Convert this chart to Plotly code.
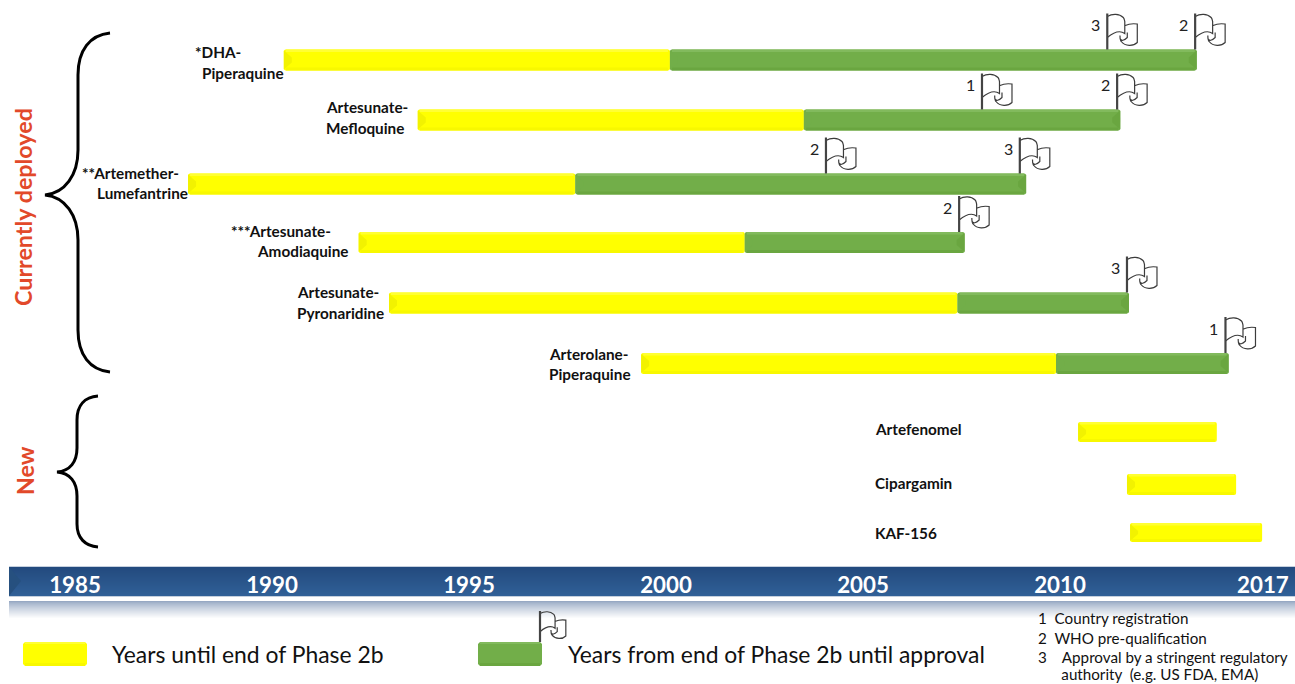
import re
import plotly.graph_objects as go

# ---------- data (years) ----------
drugs = ["*DHA-Piperaquine", "Artesunate-Mefloquine", "**Artemether-Lumefantrine",
         "***Artesunate-Amodiaquine", "Artesunate-Pyronaridine", "Arterolane-Piperaquine",
         "Artefenomel", "Cipargamin", "KAF-156"]
start_year = [1990.3, 1993.7, 1987.87, 1992.2, 1992.97, 1999.37, 2010.46, 2011.7, 2011.78]
phase2b_end = [2000.1, 2003.5, 1997.7, 2002.0, 2007.4, 2009.9, 2013.98, 2014.47, 2015.13]
approval_year = [2013.47, 2011.53, 2009.14, 2007.58, 2011.75, 2014.28, None, None, None]

flag_drug = [0, 0, 1, 1, 2, 2, 3, 4, 5]
flag_year = [2011.2, 2013.43, 2008.02, 2011.45, 2004.06, 2008.98, 2007.44, 2011.7, 2014.2]
flag_code = ["3", "2", "1", "2", "2", "3", "2", "3", "1"]

tick_vals = [1985, 1990, 1995, 2000, 2005, 2010, 2015.15]
tick_text = ["1985", "1990", "1995", "2000", "2005", "2010", "2017"]

legend_labels = ["Years until end of Phase 2b", "Years from end of Phase 2b until approval"]
footnotes = ["1  Country registration", "2  WHO pre-qualification",
             "3    Approval by a stringent regulatory", "      authority  (e.g. US FDA, EMA)"]

# ---------- layout constants ----------
W, H = 1295, 684
PX_PER_YEAR = 39.4
X_MIN = 1985 - 75 / PX_PER_YEAR
X_MAX = X_MIN + W / PX_PER_YEAR
row_y = [60, 120, 184, 242.5, 303, 363.5, 432, 484.5, 532.5]
bar_h = [21, 21, 21, 21, 21, 21, 20, 21, 19]
YELLOW, GREEN = "#FFFF00", "#72AE49"
FONT = "Lato"

label_lines = [
    [("*DHA-", 193, 52), ("Piperaquine", 200, 73)],
    [("Artesunate-", 324, 107), ("Mefloquine", 324, 128)],
    [("**Artemether-", 80, 173), ("Lumefantrine", 95, 193)],
    [("***Artesunate-", 229, 231), ("Amodiaquine", 255, 251)],
    [("Artesunate-", 295, 292), ("Pyronaridine", 295, 313)],
    [("Arterolane-", 547, 354), ("Piperaquine", 547, 374)],
    [("Artefenomel", 873, 429)],
    [("Cipargamin", 873, 483)],
    [("KAF-156", 873, 533)],
]


def px(v):
    return v / W


fig = go.Figure()
shapes, ann = [], []

# phase bars
fig.add_trace(go.Bar(y=row_y, base=start_year,
                     x=[e - s for s, e in zip(start_year, phase2b_end)],
                     width=bar_h, orientation="h", name=legend_labels[0],
                     marker=dict(color=YELLOW, cornerradius=2, line_width=0), showlegend=False))
g_y = [r for r, a in zip(row_y, approval_year) if a is not None]
g_w = [h for h, a in zip(bar_h, approval_year) if a is not None]
g_b = [e for e, a in zip(phase2b_end, approval_year) if a is not None]
g_x = [a - e for e, a in zip(phase2b_end, approval_year) if a is not None]
fig.add_trace(go.Bar(y=g_y, base=g_b, x=g_x, width=g_w, orientation="h", name=legend_labels[1],
                     marker=dict(color=GREEN, cornerradius=2, line_width=0), showlegend=False))

# bevel on the bars
inset = 2 / PX_PER_YEAR


def bevel(x0, x1, y, h, top, bottom, side):
    shapes.append(dict(type="rect", xref="x", yref="y", x0=x0 + inset, x1=x1 - inset,
                       y0=y - h / 2, y1=y - h / 2 + 2.5, fillcolor=top, line_width=0))
    shapes.append(dict(type="rect", xref="x", yref="y", x0=x0 + inset, x1=x1 - inset,
                       y0=y + h / 2 - 3, y1=y + h / 2, fillcolor=bottom, line_width=0))
    shapes.append(dict(type="path", xref="x", yref="y", xsizemode="pixel", ysizemode="pixel",
                       xanchor=x0, yanchor=y,
                       path=f"M0,{h/2-1} L8,{h/2-8} L8,{-h/2+8} L0,{-h/2+1} Z",
                       fillcolor=side, line_width=0))


for s, e, a, y, h in zip(start_year, phase2b_end, approval_year, row_y, bar_h):
    bevel(s, e, y, h, "#FFFF33", "#F8F800", "#F2F200")
    if a is not None:
        bevel(e, a, y, h, "#82BA5D", "#6AA640", GREEN)
        shapes.append(dict(type="path", xref="x", yref="y", xsizemode="pixel", ysizemode="pixel",
                           xanchor=a, yanchor=y,
                           path=f"M0,{h/2-1} L-8,{h/2-8} L-8,{-h/2+8} L0,{-h/2+1} Z",
                           fillcolor="#6AA640", line_width=0))

# flags
FLAG_PATH = ("M0,33 C5,36 12,36 16,32 C17,31 17,30 17.5,28 L17.5,16 C12,20 6,17 0,12 "
             "M18,24 C22,26 26,26 30,25.5 L30,7 C26,3 18,3 14,8 C13,9 12.7,10 12.7,14 "
             "M12.7,11 C14,8 17,9 20,12 L20,17")


def scaled_path(k):
    return re.sub(r"\d+(?:\.\d+)?", lambda m: f"{float(m.group()) * k:.2f}", FLAG_PATH)


def flag(xref, xanchor, yanchor, height=36):
    base = dict(type="path", xref=xref, yref="y", xsizemode="pixel", ysizemode="pixel",
                xanchor=xanchor, yanchor=yanchor)
    shapes.append({**base, "path": scaled_path(height / 36), "line": dict(color="#3C3C3C", width=1.2),
                   "fillcolor": "rgba(0,0,0,0)"})
    shapes.append({**base, "path": f"M0,0 L0,{height}", "line": dict(color="#444444", width=2.2)})


for d, yr, code in zip(flag_drug, flag_year, flag_code):
    top = row_y[d] - bar_h[d] / 2
    flag("x", yr, top)
    ann.append(dict(xref="x", yref="y", x=yr, xshift=-11.5, y=top - 25, text=code, showarrow=False,
                    xanchor="center", yanchor="middle",
                    font=dict(family=FONT, size=16, color="#222222")))

# drug labels
for lines in label_lines:
    for txt, x, y in lines:
        ann.append(dict(xref="paper", yref="y", x=px(x), y=y, text=f"<b>{txt}</b>", showarrow=False,
                        xanchor="left", yanchor="middle",
                        font=dict(family=FONT, size=15.3, color="#111111")))

# group labels
for txt, x, y in [("Currently deployed", 23, 207), ("New", 25, 471)]:
    ann.append(dict(xref="paper", yref="y", x=px(x), y=y, text=f"<b>{txt}</b>", showarrow=False,
                    textangle=-90, xanchor="center", yanchor="middle",
                    font=dict(family=FONT, size=23.3, color="#E2492A")))


# braces
def xp(v):
    return f"{px(v):.5f}"


brace1 = [(110, 33), (90, 35), (78, 50), (78, 75), (78, 150), (78, 175), (65, 193), (45, 195),
          (65, 197), (78, 215), (78, 240), (78, 330), (78, 355), (90, 370), (110, 372)]
brace2 = [(98, 396), (85, 397), (77, 405), (77, 420), (77, 448), (77, 462), (70, 471), (57, 472),
          (70, 473), (77, 482), (77, 496), (77, 524), (77, 538), (85, 546), (98, 547)]
for b in (brace1, brace2):
    f = lambda p: f"{xp(p[0])},{p[1]}"
    d = (f"M{f(b[0])} C{f(b[1])} {f(b[2])} {f(b[3])} L{f(b[4])} C{f(b[5])} {f(b[6])} {f(b[7])} "
         f"C{f(b[8])} {f(b[9])} {f(b[10])} L{f(b[11])} C{f(b[12])} {f(b[13])} {f(b[14])}")
    shapes.append(dict(type="path", xref="paper", yref="y", path=d,
                       line=dict(color="#000000", width=3), fillcolor="rgba(0,0,0,0)"))


# timeline band with gradient
def mix(c0, c1, t):
    return "rgb(" + ",".join(str(round(a + (b - a) * t)) for a, b in zip(c0, c1)) + ")"


for i in range(29):
    shapes.append(dict(type="rect", xref="paper", yref="y", x0=px(9), x1=1, y0=567 + i, y1=568 + i,
                       fillcolor=mix((35, 74, 126), (48, 96, 151), i / 28), line_width=0, layer="below"))
shapes.append(dict(type="path", xref="paper", yref="y", layer="below",
                   path=f"M{xp(9)},567 L{xp(21)},581 L{xp(9)},596 Z", fillcolor="#26507F", line_width=0))
shapes.append(dict(type="rect", xref="paper", yref="y", x0=px(9), x1=1, y0=566, y1=567,
                   fillcolor="#C5D0DE", line_width=0, layer="below"))
shapes.append(dict(type="rect", xref="paper", yref="y", x0=px(9), x1=1, y0=596, y1=597,
                   fillcolor="#C5D0DE", line_width=0, layer="below"))
for i in range(18):
    shapes.append(dict(type="rect", xref="paper", yref="y", x0=px(9), x1=1, y0=601 + i, y1=602 + i,
                       fillcolor=mix((150, 168, 195), (255, 255, 255), (i / 17) ** 0.8),
                       line_width=0, layer="below"))

# legend
for x0, col, top, bot, txt, tx in [(23, YELLOW, "#FFFF33", "#F8F800", legend_labels[0], 110),
                                   (478, GREEN, "#82BA5D", "#6AA640", legend_labels[1], 566)]:
    shapes.append(dict(type="path", xref="paper", yref="y", line_width=0, fillcolor=col,
                       path=f"M{xp(x0+2)},642 L{xp(x0+62)},642 L{xp(x0+64)},644 L{xp(x0+64)},664 "
                            f"L{xp(x0+62)},666 L{xp(x0+2)},666 L{xp(x0)},664 L{xp(x0)},644 Z"))
    shapes.append(dict(type="rect", xref="paper", yref="y", x0=px(x0 + 2), x1=px(x0 + 62), y0=642, y1=644,
                       fillcolor=top, line_width=0))
    shapes.append(dict(type="rect", xref="paper", yref="y", x0=px(x0 + 2), x1=px(x0 + 62), y0=663, y1=666,
                       fillcolor=bot, line_width=0))
    ann.append(dict(xref="paper", yref="y", x=px(tx), y=654, text=txt, showarrow=False,
                    xanchor="left", yanchor="middle",
                    font=dict(family=FONT, size=22.9, color="#111111")))
flag("paper", px(540), 642, height=31)

# footnotes
for txt, y in zip(footnotes, [618, 638, 657, 674]):
    ann.append(dict(xref="paper", yref="y", x=px(1036), y=y, text=txt.replace("  ", "&nbsp;&nbsp;"),
                    showarrow=False, xanchor="left", yanchor="middle",
                    font=dict(family=FONT, size=15.2, color="#111111")))

fig.update_layout(
    width=W, height=H, margin=dict(l=0, r=0, t=0, b=0),
    paper_bgcolor="white", plot_bgcolor="white", showlegend=False,
    barmode="overlay", shapes=shapes, annotations=ann,
    xaxis=dict(range=[X_MIN, X_MAX], anchor="free", position=(H - 570) / H, showgrid=False,
               zeroline=False, showline=False, ticks="", tickmode="array", tickvals=tick_vals,
               ticktext=tick_text, tickangle=0, tickfont=dict(family=FONT, size=22.3, color="white", weight="bold")),
    yaxis=dict(range=[H, 0], visible=False, domain=[0, 1]),
)
fig.write_html("out.html", config=dict(displayModeBar=False),
               post_script="document.body.style.margin='0';document.body.style.overflow='hidden';")
